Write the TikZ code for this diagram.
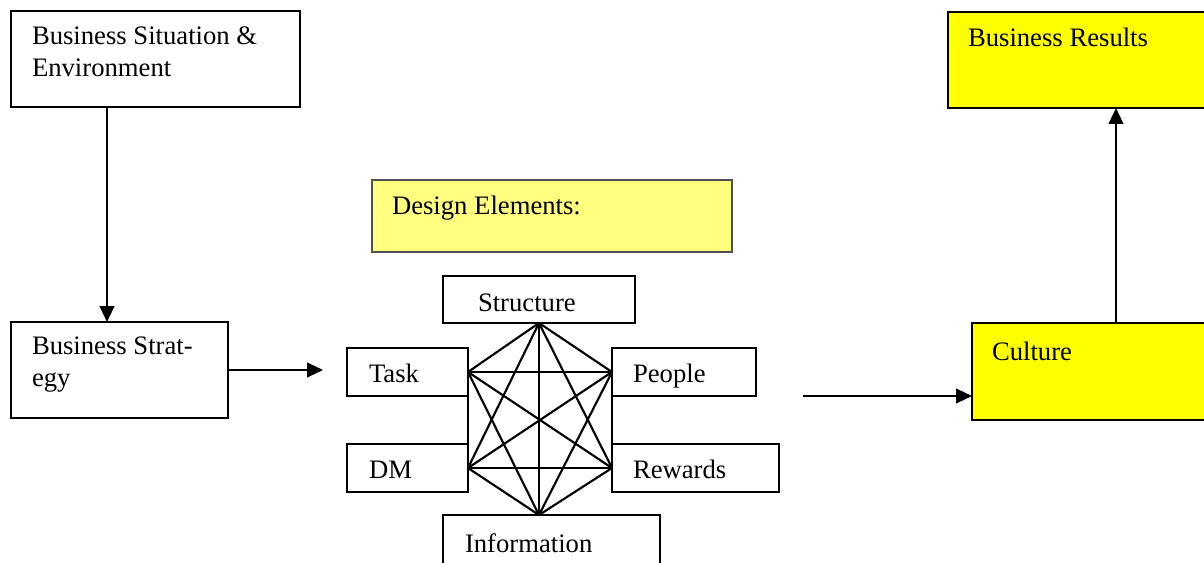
\documentclass[tikz,border=0pt]{standalone}
\usepackage{fontspec}
\setmainfont{Liberation Serif}
\usetikzlibrary{arrows.meta,calc}
\definecolor{lightyel}{HTML}{FFFF80}
\definecolor{yel}{HTML}{FFFF00}
\definecolor{bordergray}{HTML}{505050}
\tikzset{
  box/.style={draw=black, line width=1.6pt, rectangle, inner sep=0pt, outer sep=0pt, anchor=north west},
  txt/.style={inner sep=0pt, outer sep=0pt, anchor=base west, align=left, font=\fontsize{20}{24}\selectfont},
  arr/.style={line width=1.6pt, -{Triangle[length=12pt,width=11pt]}},
  link/.style={line width=1.6pt, line cap=round},
}
\begin{document}
\begin{tikzpicture}[x=0.75pt,y=-0.75pt]
\useasboundingbox (0,0) rectangle (1204,563);
\clip (0,0) rectangle (1204,563);
% left column
\node[box, minimum width=289*0.75pt, minimum height=96*0.75pt] (sit) at (11,11) {};
\node[txt] (sitt) at (32,77) {Business Situation \&\\Environment};
\node[box, minimum width=217*0.75pt, minimum height=96*0.75pt] (strat) at (11,322) {};
\node[txt] (stratt) at (32,386) {Business Strat-\\egy};
% design elements
\node[box, draw=bordergray, line width=1pt, fill=lightyel, minimum width=360*0.75pt, minimum height=72*0.75pt] (des) at (372,180) {};
\node[txt] (dest) at (392,215) {Design Elements:};
% star boxes
\node[box, minimum width=192*0.75pt, minimum height=47*0.75pt] (str) at (443,276) {};
\node[txt] (strt) at (478,311) {Structure};
\node[box, minimum width=121*0.75pt, minimum height=48*0.75pt] (task) at (347,348) {};
\node[txt] (taskt) at (369,382) {Task};
\node[box, minimum width=144*0.75pt, minimum height=48*0.75pt] (peo) at (612,348) {};
\node[txt] (peot) at (633,382) {People};
\node[box, minimum width=121*0.75pt, minimum height=48*0.75pt] (dm) at (347,444) {};
\node[txt] (dmt) at (369,478) {DM};
\node[box, minimum width=167*0.75pt, minimum height=48*0.75pt] (rew) at (612,444) {};
\node[txt] (rewt) at (633,478) {Rewards};
\node[box, minimum width=217*0.75pt, minimum height=80*0.75pt] (inf) at (443,515) {};
\node[txt] (inft) at (465,552) {Information};
% star vertices
\coordinate (vS) at (str.south);
\coordinate (vT) at (task.east);
\coordinate (vP) at (peo.west);
\coordinate (vD) at (dm.east);
\coordinate (vR) at (rew.west);
\coordinate (vI) at (inf.north -| str.south);
\foreach \a/\b in {vS/vT,vS/vP,vS/vD,vS/vR,vS/vI,vT/vP,vT/vD,vT/vR,vT/vI,vP/vD,vP/vR,vP/vI,vD/vR,vD/vI,vR/vI}
  \draw[link] (\a) -- (\b);
% right column
\node[box, fill=yel, minimum width=270*0.75pt, minimum height=97*0.75pt] (cul) at (972,323) {};
\node[txt] (cult) at (992,360) {Culture};
\node[box, fill=yel, minimum width=270*0.75pt, minimum height=96*0.75pt] (res) at (948,12) {};
\node[txt] (rest) at (968,47) {Business Results};
% connectors
\draw[arr] ($(sit.south west)+(96,0)$) -- ($(strat.north west)+(96,0)$);
\coordinate (e1) at (323,370);
\draw[arr] (strat.east) -- (e1);
\coordinate (s2) at (803,396);
\draw[arr] (s2) -- (s2 -| cul.west);
\draw[arr] ($(cul.north west)+(144,0)$) -- ($(res.south west)+(168,0)$);
\end{tikzpicture}
\end{document}
